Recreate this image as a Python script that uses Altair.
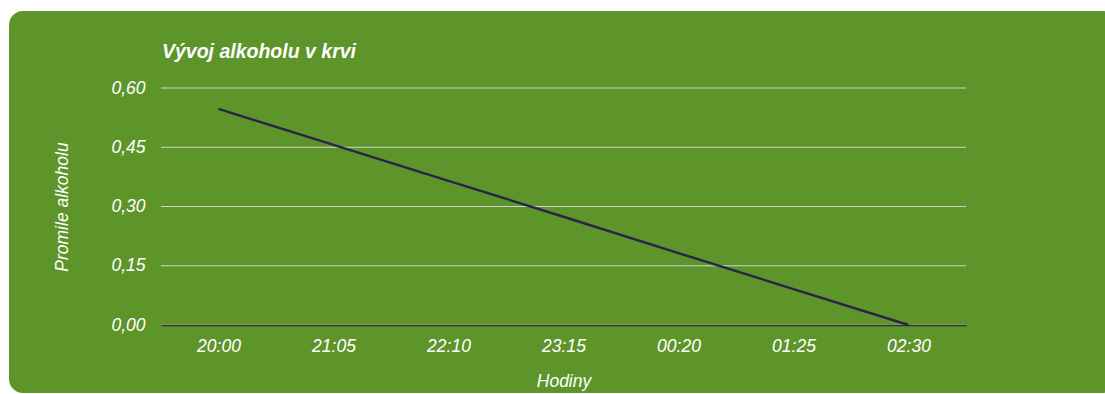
import altair as alt
import pandas as pd

# Blood alcohol level (per mille) at each time step
hours = ["20:00", "21:05", "22:10", "23:15", "00:20", "01:25", "02:30"]
promile = [0.547, 0.456, 0.365, 0.274, 0.182, 0.091, 0.000]

# Horizontal guide values
y_ticks = [0.0, 0.15, 0.30, 0.45, 0.60]

FONT = "Liberation Sans"
GREEN = "#5e952a"
W, H = 805, 237
FS = 17.5

df = pd.DataFrame({"hodina": hours, "promile": promile})
grid_df = pd.DataFrame({"v": y_ticks})

x_enc = alt.X(
    "hodina:N",
    sort=None,
    title="Hodiny",
    axis=alt.Axis(
        labelAngle=0,
        labelFont=FONT,
        labelFontSize=FS,
        labelFontStyle="italic",
        labelColor="white",
        labelPadding=12,
        ticks=False,
        domainColor="#333333",
        domainWidth=1.5,
        titleFont=FONT,
        titleFontSize=FS,
        titleFontStyle="italic",
        titleFontWeight="normal",
        titleColor="white",
        titlePadding=18,
        zindex=1,
    ),
)

y_enc = alt.Y(
    "promile:Q",
    title="Promile alkoholu",
    scale=alt.Scale(domain=[0, 0.6], nice=False),
    axis=alt.Axis(
        values=y_ticks,
        labelExpr="replace(format(datum.value, '.2f'), '.', ',')",
        labelFont=FONT,
        labelFontSize=FS,
        labelFontStyle="italic",
        labelColor="white",
        labelPadding=16,
        ticks=False,
        domain=False,
        grid=False,
        titleFont=FONT,
        titleFontSize=FS,
        titleFontStyle="italic",
        titleFontWeight="normal",
        titleColor="white",
        titleX=-99,
        titleY=H / 2,
        titleAlign="center",
        titleBaseline="middle",
        zindex=1,
    ),
)

# Rounded green panel behind the whole chart
panel = alt.Chart(pd.DataFrame({"p": [0]})).mark_rect(
    color=GREEN, cornerRadius=14
).encode(
    x=alt.value(-152), x2=alt.value(955), y=alt.value(-77), y2=alt.value(305)
)

grid = alt.Chart(grid_df).mark_rule(color="#d2d2d2", strokeWidth=1).encode(
    y=alt.Y("v:Q", scale=alt.Scale(domain=[0, 0.6], nice=False))
)

line = alt.Chart(df).mark_line(color="#2b2448", strokeWidth=2.4).encode(
    x=x_enc, y=y_enc
)

chart = (
    alt.layer(panel, grid, line)
    .properties(
        width=W,
        height=H,
        autosize=alt.AutoSizeParams(type="none"),
        padding={"left": 161, "top": 88, "right": 139, "bottom": 69},
        background="white",
        title=alt.TitleParams(
            "Vývoj alkoholu v krvi",
            anchor="start",
            font=FONT,
            fontSize=19.5,
            fontWeight="bold",
            fontStyle="italic",
            color="white",
            baseline="alphabetic",
            offset=0,
            dx=153,
            dy=66,
        ),
    )
    .configure_view(strokeWidth=0)
)

chart.save("out.html", embed_options={"renderer": "svg", "actions": False})
